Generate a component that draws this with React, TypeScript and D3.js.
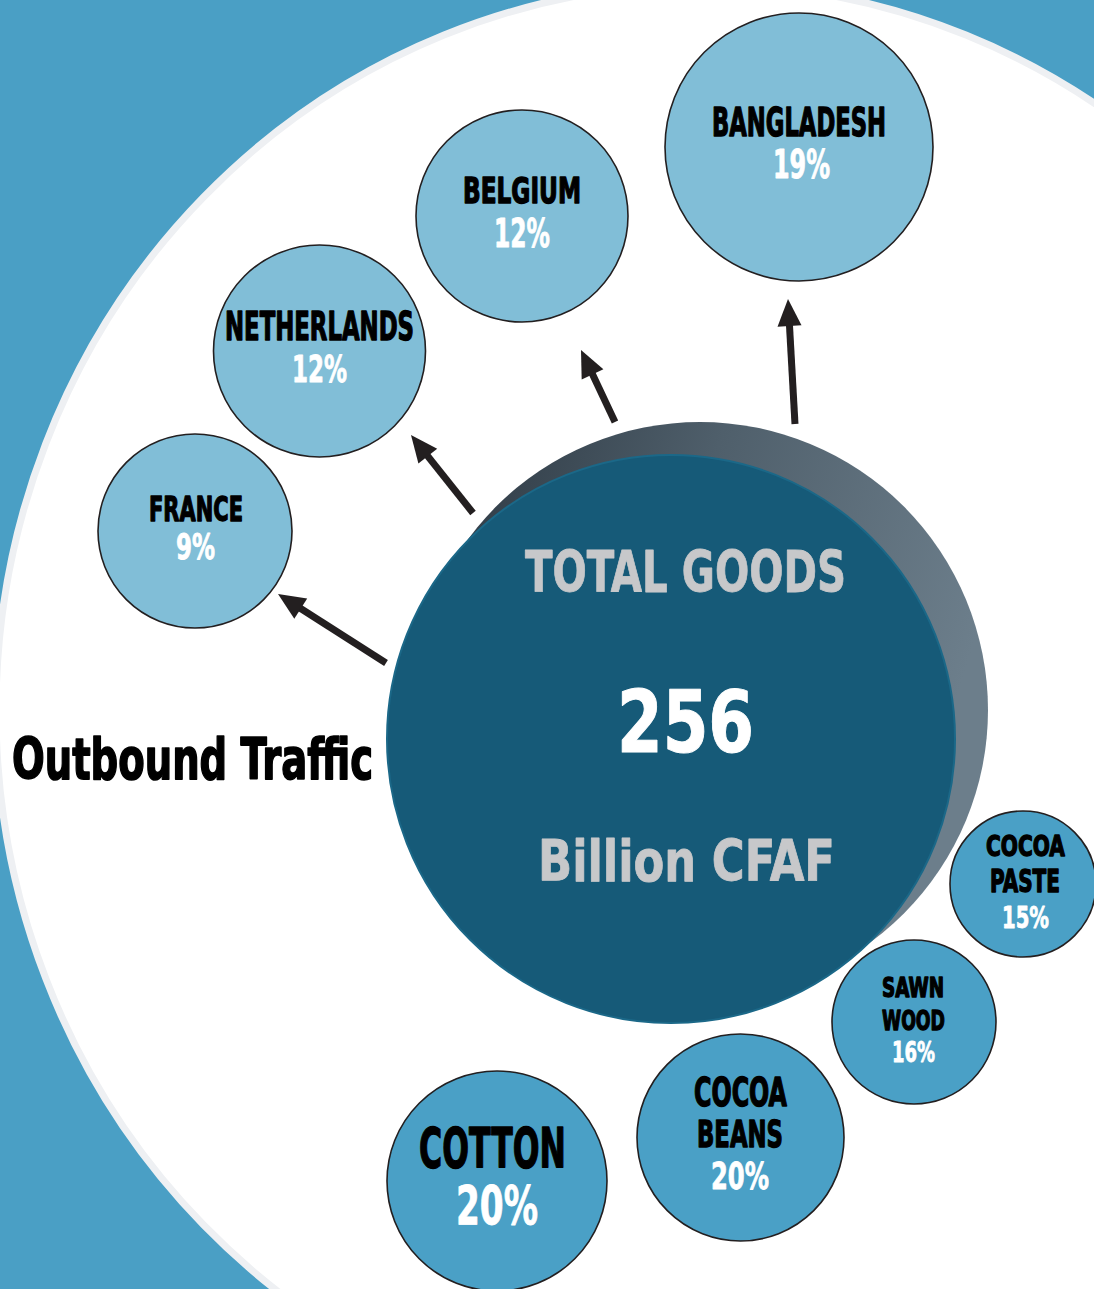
import React from "react";
import * as d3 from "d3";

// ---------- data ----------
const destinations = ["BANGLADESH", "BELGIUM", "NETHERLANDS", "FRANCE"];
const destinationShares = [19, 12, 12, 9];
const goods = [["COTTON"], ["COCOA", "BEANS"], ["SAWN", "WOOD"], ["COCOA", "PASTE"]];
const goodsShares = [20, 20, 16, 15];
const totalValue = 256;
const totalTitle = "TOTAL GOODS";
const totalUnit = "Billion CFAF";
const sideLabel = "Outbound Traffic";

// ---------- layout (positions / sizes) ----------
const W = 1094;
const H = 1289;
const destLayout = [
  { cx: 799, cy: 147, r: 134 },
  { cx: 522, cy: 216, r: 106 },
  { cx: 319.5, cy: 351, r: 106 },
  { cx: 195, cy: 531, r: 97 },
];
// text boxes: [left, right, baseline, capHeight]
const destNameBoxes = [
  [712, 886, 136, 28],
  [463, 581, 203, 26],
  [225, 414, 340, 28],
  [149, 243, 521, 25],
];
const destPctBoxes = [
  [773, 830, 178, 28],
  [494, 550, 247, 29],
  [292, 347, 382, 27],
  [176, 215, 559, 26],
];
const goodsLayout = [
  { cx: 497, cy: 1181, r: 110 },
  { cx: 740.5, cy: 1137.5, r: 103.5 },
  { cx: 914, cy: 1022, r: 82 },
  { cx: 1023, cy: 884, r: 73 },
];
const goodsNameBoxes = [
  [[419, 566, 1167, 40]],
  [[694, 787, 1106, 28], [697, 783, 1147, 27]],
  [[882, 944, 997, 19], [882, 945, 1030, 20]],
  [[986, 1065, 856, 21], [990, 1060, 892, 23]],
];
const goodsPctBoxes = [
  [456, 538, 1224, 39],
  [711, 769, 1189, 27],
  [892, 935, 1062, 21],
  [1002, 1049, 928, 22],
];
const arrowLayout = [
  { x1: 795, y1: 424, x2: 788, y2: 299 },
  { x1: 615, y1: 422, x2: 581, y2: 350 },
  { x1: 473, y1: 513, x2: 411, y2: 435 },
  { x1: 386, y1: 663, x2: 278, y2: 594 },
];

const FONT = "'DejaVu Sans Condensed', 'Liberation Sans Narrow', 'Liberation Sans', Arial, sans-serif";
const CAP = 0.73;

const BG = "#4a9fc5";
const LIGHT = "#81bed7";
const MID = "#4aa0c6";
const DARK = "#165a78";
const INK = "#231f20";

function Label({ box, text, fill, weight = 700, strokeW = 1 }: any) {
  const [x0, x1, base, cap] = box;
  return (
    <text
      x={x0}
      y={base}
      fontFamily={FONT}
      fontWeight={weight}
      fontStretch="condensed"
      fontSize={cap / CAP}
      fill={fill}
      stroke={fill}
      strokeWidth={strokeW}
      strokeLinejoin="round"
      textLength={x1 - x0}
      lengthAdjust="spacingAndGlyphs"
    >
      {text}
    </text>
  );
}

function Arrow({ a }: any) {
  const ang = Math.atan2(a.y2 - a.y1, a.x2 - a.x1);
  const headLen = 27;
  const headHalf = 12;
  const bx = a.x2 - headLen * Math.cos(ang);
  const by = a.y2 - headLen * Math.sin(ang);
  const px = -Math.sin(ang);
  const py = Math.cos(ang);
  const path = d3.path();
  path.moveTo(a.x2, a.y2);
  path.lineTo(bx + px * headHalf, by + py * headHalf);
  path.lineTo(bx - px * headHalf, by - py * headHalf);
  path.closePath();
  return (
    <g>
      <line x1={a.x1} y1={a.y1} x2={bx + 2 * Math.cos(ang)} y2={by + 2 * Math.sin(ang)} stroke={INK} strokeWidth={7} />
      <path d={path.toString()} fill={INK} />
    </g>
  );
}

export default function App() {
  const fmtPct = (v: number) => d3.format("d")(v) + "%";
  return (
    <svg width={W} height={H} style={{ position: "absolute", left: 0, top: 0, display: "block" }}>
      <defs>
        <linearGradient id="shadowGrad" x1="0" y1="0" x2="1" y2="0.3">
          <stop offset="0" stopColor="#28333d" />
          <stop offset="0.5" stopColor="#4f5f6b" />
          <stop offset="1" stopColor="#6c7e8b" />
        </linearGradient>
      </defs>
      <rect x={0} y={0} width={W} height={H} fill={BG} />
      <ellipse cx={705} cy={711} rx={709} ry={727} fill="#ffffff" stroke="#eef0f3" strokeWidth={7} />

      {/* central total bubble */}
      <circle cx={700} cy={710} r={288} fill="url(#shadowGrad)" />
      <circle cx={671} cy={739} r={284} fill={DARK} stroke="#1b6888" strokeWidth={2} />
      <Label box={[525, 846, 592, 42]} text={totalTitle} fill="#c7c8ca" strokeW={0.8} />
      <Label box={[617, 754, 752, 63]} text={String(totalValue)} fill="#ffffff" strokeW={1} />
      <Label box={[538, 835, 881, 42]} text={totalUnit} fill="#c7c8ca" strokeW={0.8} />

      {arrowLayout.map((a, i) => (
        <Arrow key={i} a={a} />
      ))}

      {destinations.map((name, i) => (
        <g key={name}>
          <circle cx={destLayout[i].cx} cy={destLayout[i].cy} r={destLayout[i].r} fill={LIGHT} stroke={INK} strokeWidth={1.6} />
          <Label box={destNameBoxes[i]} text={name} fill="#000000" strokeW={1.3} />
          <Label box={destPctBoxes[i]} text={fmtPct(destinationShares[i])} fill="#ffffff" strokeW={0.8} />
        </g>
      ))}

      {goods.map((lines, i) => (
        <g key={i}>
          <circle cx={goodsLayout[i].cx} cy={goodsLayout[i].cy} r={goodsLayout[i].r} fill={MID} stroke={INK} strokeWidth={1.6} />
          {lines.map((ln, j) => (
            <Label key={j} box={goodsNameBoxes[i][j]} text={ln} fill="#000000" strokeW={1.3} />
          ))}
          <Label box={goodsPctBoxes[i]} text={fmtPct(goodsShares[i])} fill="#ffffff" strokeW={0.8} />
        </g>
      ))}

      <Label box={[12, 373, 779, 42]} text={sideLabel} fill="#000000" strokeW={1.6} />
    </svg>
  );
}
